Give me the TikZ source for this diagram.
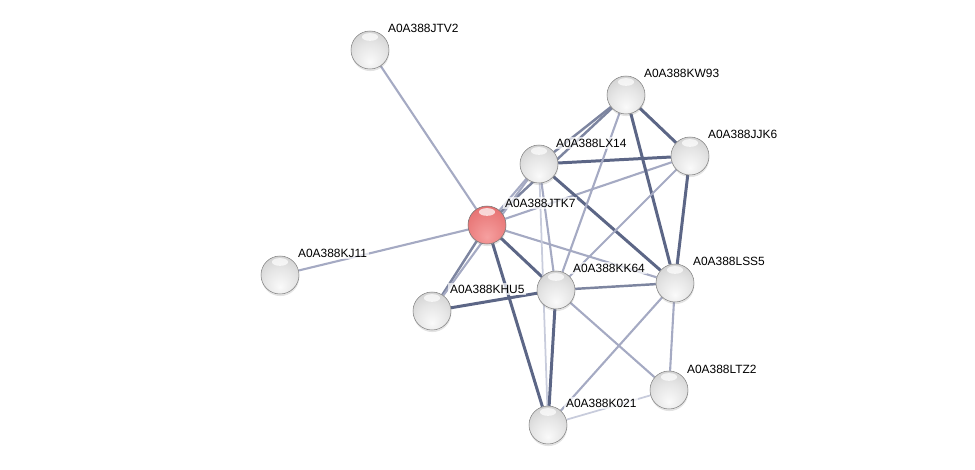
\documentclass[tikz,border=0pt]{standalone}
\usepackage{fontspec}
\setmainfont{Liberation Sans}
\usetikzlibrary{backgrounds,shadows}
\definecolor{edgeS}{RGB}{92,102,134}
\definecolor{edgeM}{RGB}{125,133,160}
\definecolor{edgeW}{RGB}{165,170,195}
\definecolor{edgeF}{RGB}{200,204,220}
\pgfdeclareradialshading{greysphere}{\pgfpoint{0bp}{-16bp}}{%
  color(0bp)=(black!2); color(20bp)=(black!10); color(42bp)=(black!22);
  color(54bp)=(black!34); color(60bp)=(black!50); color(66bp)=(black!62)}
\pgfdeclareradialshading{redsphere}{\pgfpoint{0bp}{-16bp}}{%
  color(0bp)=(rgb,255:red,246;green,160;blue,160); color(30bp)=(rgb,255:red,232;green,118;blue,118);
  color(52bp)=(rgb,255:red,205;green,80;blue,80); color(66bp)=(rgb,255:red,150;green,40;blue,40)}

\begin{document}
\begin{tikzpicture}[x=0.02cm,y=-0.02cm,
    prot/.style={circle,minimum size=0.76cm,inner sep=0pt,draw=black!50,line width=0.3pt,
      shading=greysphere,
      path picture={\fill[white,opacity=0.7] ([yshift=-3.4pt]path picture bounding box.north)
        ellipse (4.6pt and 2.2pt);},
      drop shadow={opacity=0.22,shadow xshift=0.2pt,shadow yshift=-1.2pt}},
    query/.style={prot,shading=redsphere,draw=black!55},
    lbl/.style={anchor=west,font=\fontsize{6.8}{8}\selectfont,fill=white,fill opacity=0.7,
      text opacity=1,inner sep=1pt},
    strong/.style={edgeS,line width=1.7pt},
    mid/.style={edgeM,line width=1.4pt},
    weak/.style={edgeW,line width=1.2pt},
    faint/.style={edgeF,line width=1pt}]
      \useasboundingbox (0,0) rectangle (975,470);
      % proteins
      \node[prot] at (370,50) (JTV2) {};
      \node[prot] at (626,95) (KW93) {};
      \node[prot] at (690,156) (JJK6) {};
      \node[prot] at (539,164) (LX14) {};
      \node[query] at (487,225) (JTK7) {};
      \node[prot] at (280,275) (KJ11) {};
      \node[prot] at (432,311) (KHU5) {};
      \node[prot] at (556,290) (KK64) {};
      \node[prot] at (675,283) (LSS5) {};
      \node[prot] at (669,390) (LTZ2) {};
      \node[prot] at (548,425) (K021) {};
      % names
      \node[lbl] at (386,28) (tJTV2) {A0A388JTV2};
      \node[lbl] at (642,73) (tKW93) {A0A388KW93};
      \node[lbl] at (706,134) (tJJK6) {A0A388JJK6};
      \node[lbl] at (554,143) (tLX14) {A0A388LX14};
      \node[lbl] at (503,203) (tJTK7) {A0A388JTK7};
      \node[lbl] at (296,253) (tKJ11) {A0A388KJ11};
      \node[lbl] at (448,289) (tKHU5) {A0A388KHU5};
      \node[lbl] at (571,268) (tKK64) {A0A388KK64};
      \node[lbl] at (691,261) (tLSS5) {A0A388LSS5};
      \node[lbl] at (685,369) (tLTZ2) {A0A388LTZ2};
      \node[lbl] at (564,403) (tK021) {A0A388K021};
      % interactions
      \begin{pgfonlayer}{background}
      \draw[weak] (JTK7) -- (JTV2);
      \draw[weak] (JTK7) -- (KJ11);
      \draw[weak] (JTK7) -- (LX14);
      \draw[mid] (JTK7) -- (KW93);
      \draw[weak] (JTK7) -- (JJK6);
      \draw[mid] (JTK7) -- (KHU5);
      \draw[strong] (JTK7) -- (KK64);
      \draw[strong] (JTK7) -- (K021);
      \draw[weak] (JTK7) -- (LSS5);
      \draw[weak] (KHU5) -- (LX14);
      \draw[strong] (KHU5) -- (KK64);
      \draw[mid] (LX14) -- (KW93);
      \draw[strong] (LX14) -- (JJK6);
      \draw[strong] (LX14) -- (LSS5);
      \draw[weak] (LX14) -- (KK64);
      \draw[faint] (LX14) -- (K021);
      \draw[strong] (KW93) -- (JJK6);
      \draw[strong] (KW93) -- (LSS5);
      \draw[weak] (KW93) -- (KK64);
      \draw[strong] (JJK6) -- (LSS5);
      \draw[weak] (JJK6) -- (KK64);
      \draw[mid] (KK64) -- (LSS5);
      \draw[strong] (KK64) -- (K021);
      \draw[weak] (KK64) -- (LTZ2);
      \draw[weak] (LSS5) -- (K021);
      \draw[weak] (LSS5) -- (LTZ2);
      \draw[faint] (LTZ2) -- (K021);
      \end{pgfonlayer}
    \end{tikzpicture}
\end{document}
